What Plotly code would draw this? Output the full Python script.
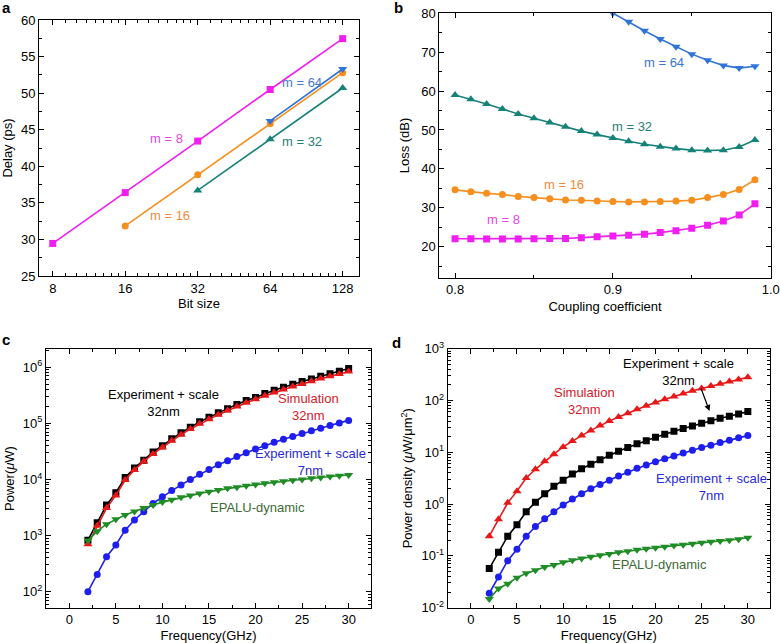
import plotly.graph_objects as go
import numpy as np

# ---------------- data ----------------
# panel a
bits_m8 = [8, 16, 32, 64, 128]
delay_m8 = [29.45, 36.4, 43.45, 50.5, 57.45]
bits_m16 = [16, 32, 64, 128]
delay_m16 = [31.85, 38.85, 45.8, 52.8]
bits_m32 = [32, 64, 128]
delay_m32 = [36.7, 43.7, 50.7]
bits_m64 = [64, 128]
delay_m64 = [46.2, 53.3]
bit_ticks = [8, 16, 32, 64, 128]

# panel b
coupling = [0.80, 0.81, 0.82, 0.83, 0.84, 0.85, 0.86, 0.87, 0.88, 0.89,
            0.90, 0.91, 0.92, 0.93, 0.94, 0.95, 0.96, 0.97, 0.98, 0.99]
loss_m8 = [22.0, 22.0, 21.95, 21.95, 21.95, 22.0, 22.05, 22.1, 22.3, 22.5,
           22.7, 22.9, 23.2, 23.6, 24.1, 24.7, 25.5, 26.6, 28.1, 31.0]
loss_m16 = [34.6, 34.1, 33.7, 33.4, 32.9, 32.6, 32.3, 32.0, 31.9, 31.7,
            31.6, 31.5, 31.5, 31.6, 31.7, 31.9, 32.6, 33.4, 34.7, 37.2]
loss_m32 = [59.0, 57.9, 56.7, 55.4, 54.1, 53.0, 51.9, 50.8, 49.7, 48.8,
            47.9, 47.1, 46.3, 45.7, 45.2, 44.8, 44.7, 44.8, 45.6, 47.4]
coupling_m64 = [0.89, 0.90, 0.91, 0.92, 0.93, 0.94, 0.95, 0.96, 0.97, 0.98, 0.99]
loss_m64 = [82.3, 80.0, 77.8, 75.5, 73.4, 71.4, 69.5, 67.9, 66.6, 65.9, 66.4]

# panels c, d
freq = list(range(2, 31))
power_exp32 = [830, 1700, 3500, 5800, 10900, 16000, 22000, 31000, 40000, 53000,
               68000, 85000, 107000, 128000, 155000, 183000, 216000, 255000, 290000, 340000,
               390000, 440000, 500000, 555000, 620000, 690000, 770000, 850000, 950000]
power_sim32 = [700, 1500, 3100, 5200, 9800, 14800, 21000, 28500, 37000, 49000,
               63000, 79000, 98000, 118000, 143000, 170000, 200000, 233000, 270000, 310000,
               355000, 400000, 455000, 505000, 565000, 630000, 690000, 760000, 840000]
power_exp7 = [100, 203, 420, 680, 1250, 1900, 2650, 3750, 4900, 6350,
              8000, 10000, 12400, 15000, 18300, 21600, 25700, 30000, 35000, 40000,
              46000, 52000, 58500, 66000, 74000, 82000, 92000, 102000, 113000]
power_epalu = [815, 1200, 1600, 1950, 2330, 2700, 3100, 3500, 3950, 4350,
               4800, 5200, 5650, 6050, 6500, 6950, 7300, 7700, 8100, 8550,
               8900, 9300, 9700, 10000, 10500, 10900, 11300, 11700, 12000]

dens_sim32 = [0.24, 0.51, 1.06, 1.78, 3.2, 4.7, 6.7, 9.2, 12.7, 16.5,
              21, 26.5, 33, 40, 48, 57, 68, 79, 91, 106,
              119, 137, 154, 171, 190, 210, 233, 255, 280]
dens_exp32 = [0.057, 0.117, 0.24, 0.40, 0.71, 1.09, 1.58, 2.2, 2.9, 3.8,
              4.8, 5.9, 7.2, 8.8, 10.5, 12.4, 14.6, 16.8, 19.5, 22.3,
              25.5, 28.7, 32.2, 36.3, 40.5, 45.6, 49.8, 55, 61]
dens_exp7 = [0.019, 0.039, 0.081, 0.135, 0.24, 0.37, 0.52, 0.71, 0.96, 1.25,
             1.58, 1.98, 2.4, 2.9, 3.5, 4.1, 4.9, 5.7, 6.6, 7.5,
             8.5, 9.7, 10.9, 12.4, 13.7, 15.4, 17, 19, 21]
dens_epalu = [0.0147, 0.0235, 0.029, 0.038, 0.046, 0.053, 0.061, 0.067, 0.075, 0.082,
              0.089, 0.096, 0.103, 0.109, 0.117, 0.123, 0.131, 0.138, 0.144, 0.151,
              0.158, 0.165, 0.171, 0.179, 0.187, 0.195, 0.2, 0.21, 0.225]

# ---------------- styling ----------------
W, H = 780, 643
FONT = "Liberation Sans, Arial, Helvetica, sans-serif"
MAG = "#f01ef0"
ORA = "#f68f1e"
TEAL = "#15827a"
BLU = "#2f74d8"
BLACK = "#000000"
RED = "#e81818"
BLUE2 = "#1e1eee"
GREEN = "#1f8c25"


def px2x(p):
    return p / W


def px2y(p):
    return 1 - p / H


fig = go.Figure()

# axis domains (pixel boxes)
boxes = {
    "1": (39, 359, 20, 276),
    "2": (439.3, 770.7, 13.3, 277.7),
    "3": (46, 371, 349.3, 607.7),
    "4": (447.7, 770, 348.7, 607.7),
}


def line_trace(x, y, color, symbol, ax, size=7, lw=1.6):
    return go.Scatter(x=x, y=y, mode="lines+markers",
                      line=dict(color=color, width=lw),
                      marker=dict(color=color, symbol=symbol, size=size),
                      xaxis="x" + ax, yaxis="y" + ax, showlegend=False,
                      cliponaxis=True)


# panel a
fig.add_trace(line_trace(bits_m8, delay_m8, MAG, "square", "1"))
fig.add_trace(line_trace(bits_m16, delay_m16, ORA, "circle", "1"))
fig.add_trace(line_trace(bits_m32, delay_m32, TEAL, "triangle-up", "1", size=8))
fig.add_trace(line_trace(bits_m64, delay_m64, BLU, "triangle-down", "1", size=8))

# panel b
fig.add_trace(line_trace(coupling, loss_m8, MAG, "square", "2"))
fig.add_trace(line_trace(coupling, loss_m16, ORA, "circle", "2"))
fig.add_trace(line_trace(coupling, loss_m32, TEAL, "triangle-up", "2", size=8))
fig.add_trace(line_trace(coupling_m64, loss_m64, BLU, "triangle-down", "2", size=8))

# panel c
fig.add_trace(line_trace(freq, power_exp32, BLACK, "square", "3"))
fig.add_trace(line_trace(freq, power_sim32, RED, "triangle-up", "3", size=8))
fig.add_trace(line_trace(freq, power_exp7, BLUE2, "circle", "3"))
fig.add_trace(line_trace(freq, power_epalu, GREEN, "triangle-down", "3", size=8))

# panel d
fig.add_trace(line_trace(freq, dens_sim32, RED, "triangle-up", "4", size=8))
fig.add_trace(line_trace(freq, dens_exp32, BLACK, "square", "4"))
fig.add_trace(line_trace(freq, dens_exp7, BLUE2, "circle", "4"))
fig.add_trace(line_trace(freq, dens_epalu, GREEN, "triangle-down", "4", size=8))

tickfont = dict(family=FONT, size=13, color="black")
titlefont = dict(family=FONT, size=13, color="black")


def base_axis(**kw):
    d = dict(showline=True, linecolor="black", linewidth=1, mirror="allticks",
             ticks="inside", ticklen=5, tickwidth=1, tickcolor="black",
             showgrid=False, zeroline=False, tickfont=tickfont, automargin=False)
    d.update(kw)
    return d


layout = dict(width=W, height=H, margin=dict(l=0, r=0, t=0, b=0, autoexpand=False),
              template="none",
              paper_bgcolor="white", plot_bgcolor="white", showlegend=False,
              font=dict(family=FONT, color="black"))

for k, (x0, x1, y0, y1) in boxes.items():
    layout["xaxis" + k] = dict(domain=[px2x(x0), px2x(x1)], anchor="y" + k)
    layout["yaxis" + k] = dict(domain=[px2y(y1), px2y(y0)], anchor="x" + k)

# a axes
minor_bits = ([9, 10, 11, 12, 13, 14, 15] + [18, 20, 22, 24, 26, 28, 30]
              + [36, 40, 44, 48, 52, 56, 60] + [72, 80, 88, 96, 104, 112, 120])
layout["xaxis1"].update(base_axis(
    type="log", range=[0.846, 2.175], tickmode="array", tickvals=bit_ticks,
    ticktext=[str(b) for b in bit_ticks],
    minor=dict(tickmode="array", tickvals=minor_bits, ticks="inside", ticklen=3,
               tickcolor="black", showgrid=False),
    title=dict(text="Bit size", font=titlefont, standoff=3)))
layout["yaxis1"].update(base_axis(
    range=[25, 60], dtick=5, tick0=25,
    minor=dict(dtick=2.5, ticks="inside", ticklen=3, tickcolor="black", showgrid=False),
    title=dict(text="Delay (ps)", font=titlefont, standoff=5)))

# b axes
layout["xaxis2"].update(base_axis(
    range=[0.79, 1.0], tickmode="array", tickvals=[0.8, 0.9, 1.0],
    ticktext=["0.8", "0.9", "1.0"],
    minor=dict(tickmode="array", tickvals=[0.85, 0.95], ticks="inside", ticklen=3,
               tickcolor="black", showgrid=False),
    title=dict(text="Coupling coefficient", font=titlefont, standoff=5)))
layout["yaxis2"].update(base_axis(
    range=[12, 80], tickmode="array", tickvals=[20, 30, 40, 50, 60, 70, 80],
    minor=dict(tickmode="array", tickvals=[15, 25, 35, 45, 55, 65, 75], ticks="inside",
               ticklen=3, tickcolor="black", showgrid=False),
    title=dict(text="Loss (dB)", font=titlefont, standoff=8)))

# c, d axes
def log_minor(lo, hi):
    return [m * 10 ** e for e in range(lo, hi) for m in range(2, 10)]


for k, (lo, hi, r0, r1, ttl) in {
        "3": (1, 7, 1.715, 6.32, "Power(<i>\u03bc</i>W)"),
        "4": (-2, 3, -2.0, 3.0, "Power density (<i>\u03bc</i>W/\u03bcm<sup>2</sup>)")}.items():
    layout["xaxis" + k].update(base_axis(
        range=[-2.5, 32.4], tickmode="array", tickvals=[0, 5, 10, 15, 20, 25, 30],
        minor=dict(tickmode="array", tickvals=[-2.5, 2.5, 7.5, 12.5, 17.5, 22.5, 27.5, 32.5],
                   ticks="inside", ticklen=3, tickcolor="black", showgrid=False),
        title=dict(text="Frequency(GHz)", font=titlefont, standoff=6)))
    tv = [10 ** e for e in range(lo if k == "4" else 2, hi + (1 if k == "4" else 0))]
    layout["yaxis" + k].update(base_axis(
        type="log", range=[r0, r1], tickmode="array", tickvals=tv,
        ticktext=["10<sup>%d</sup>" % round(np.log10(v)) for v in tv],
        minor=dict(tickmode="array", tickvals=log_minor(lo, hi), ticks="inside",
                   ticklen=3, tickcolor="black", showgrid=False),
        title=dict(text=ttl, font=titlefont, standoff=5)))

fig.update_layout(**layout)


def ann(text, x, y, color, size=13, bold=False, xanchor="center"):
    fig.add_annotation(text=("<b>%s</b>" % text) if bold else text,
                       x=px2x(x), y=px2y(y), xref="paper", yref="paper",
                       showarrow=False, xanchor=xanchor, yanchor="middle",
                       font=dict(family=FONT, size=size, color=color))


# panel letters
ann("a", 6, 8, "black", 15, True)
ann("b", 398, 8, "black", 15, True)
ann("c", 6, 339, "black", 15, True)
ann("d", 396, 342, "black", 15, True)

# panel a labels
ann("m = 8", 166, 139, "#e645e0")
ann("m = 16", 170, 216, "#ef8a3c")
ann("m = 64", 302, 83, "#4a78c8")
ann("m = 32", 302, 141, "#1f7f78")

# panel b labels
ann("m = 64", 664, 63, "#3a74d4")
ann("m = 32", 632, 127, "#1f7f78")
ann("m = 16", 564, 184, "#ef8a3c")
ann("m = 8", 503, 220, "#e645e0")

# panel c labels
ann("Experiment + scale<br>32nm", 163, 403, "black")
ann("Simulation<br>32nm", 308, 407, "#d4202a")
ann("Experiment + scale<br>7nm", 310, 462, "#2a2ad8")
ann("EPALU-dynamic", 257, 507, "#3d6b35")

# panel d labels
ann("Simulation<br>32nm", 584, 401, "#d4202a")
ann("Experiment + scale<br>32nm", 678, 372, "black")
ann("Experiment + scale<br>7nm", 711, 487, "#2a2ad8")
ann("EPALU-dynamic", 659, 564, "#3d6b35")
fig.add_annotation(x=px2x(709.5), y=px2y(411), xref="paper", yref="paper",
                   ax=-9, ay=-24, axref="pixel", ayref="pixel", text="",
                   showarrow=True, arrowhead=2, arrowsize=1, arrowwidth=1.2,
                   arrowcolor="black")

fig.write_html("out.html",
               config={"displayModeBar": False},
               post_script="document.body.style.margin='0px';"
                           "document.body.style.overflow='hidden';")
